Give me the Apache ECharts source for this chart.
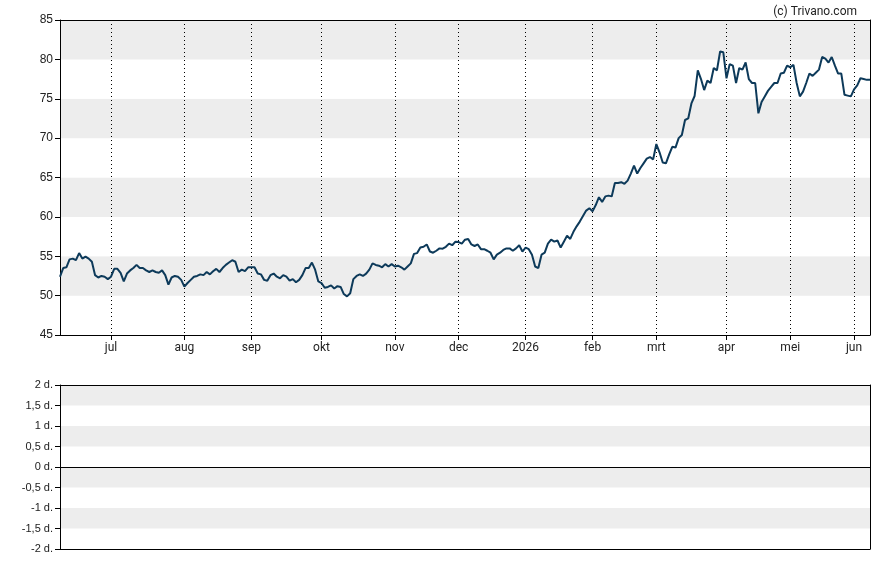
<!DOCTYPE html>
<html lang="nl">

<head>
    <meta charset="UTF-8">
    <title>Koersgrafiek</title>
    <script src="https://cdn.jsdelivr.net/npm/echarts@6/dist/echarts.min.js"></script>
    <style>
        body {
            margin: 0;
        }

        #root {
            width: 888px;
            height: 565px;
        }
    </style>
</head>

<body>

    <div id="root"></div>
    <script>

        // handelsdagen: werkdagen tussen start en eind, zonder beursvakanties
        var startDate = '2025-06-09';
        var endDate = '2026-06-08';
        var holidays = ['2025-12-25', '2025-12-26', '2026-01-01', '2026-04-03', '2026-04-06', '2026-05-01'];
        var monthNames = ['jan', 'feb', 'mrt', 'apr', 'mei', 'jun', 'jul', 'aug', 'sep', 'okt', 'nov', 'dec'];

        // slotkoersen, één per handelsdag
        var closes = [
            52.4, 53.5, 53.6, 54.6, 54.7, 54.5, 55.4, 54.7, 54.95, 54.7,
            54.3, 52.6, 52.3, 52.5, 52.4, 52.1, 52.4, 53.4, 53.4, 52.9,
            51.8, 52.8, 53.2, 53.5, 53.9, 53.5, 53.5, 53.2, 53.0, 53.2,
            53.0, 52.9, 53.2, 52.6, 51.4, 52.3, 52.5, 52.4, 52.0, 51.15,
            51.6, 52.0, 52.4, 52.5, 52.7, 52.6, 53.0, 52.7, 53.1, 53.4,
            53.0, 53.5, 53.9, 54.2, 54.5, 54.3, 53.0, 53.3, 53.1, 53.6,
            53.6, 53.6, 52.8, 52.7, 52.0, 51.9, 52.6, 52.8, 52.4, 52.2,
            52.6, 52.4, 51.9, 52.1, 51.7, 52.0, 52.6, 53.5, 53.5, 54.2,
            53.3, 51.8, 51.6, 51.0, 51.1, 51.3, 50.9, 51.2, 51.1, 50.2,
            49.9, 50.3, 52.1, 52.5, 52.7, 52.5, 52.8, 53.3, 54.1, 53.9,
            53.8, 53.6, 54.0, 53.7, 54.0, 53.7, 53.8, 53.6, 53.3, 53.7,
            54.1, 55.3, 55.4, 56.1, 56.2, 56.5, 55.6, 55.45, 55.7, 56.0,
            55.96, 56.2, 56.6, 56.4, 56.85, 56.8, 56.6, 57.1, 57.2, 56.5,
            56.3, 56.5, 55.9, 55.9, 55.7, 55.45, 54.6, 55.2, 55.45, 55.8,
            56.0, 56.0, 55.7, 56.0, 56.4, 55.6, 56.1, 55.9, 55.2, 53.7,
            53.5, 55.2, 55.45, 56.6, 57.1, 56.85, 57.0, 56.1, 56.85, 57.6,
            57.2, 58.1, 58.8, 59.4, 60.1, 60.8, 61.1, 60.7, 61.5, 62.5,
            61.9, 62.6, 62.7, 62.6, 64.3, 64.3, 64.4, 64.2, 64.6, 65.5,
            66.5, 65.5, 66.2, 66.8, 67.4, 67.6, 67.3, 69.25, 68.2, 66.9,
            66.8, 67.9, 68.9, 68.8, 70.0, 70.4, 72.3, 72.5, 74.4, 75.35,
            78.6, 77.5, 76.1, 77.3, 77.0, 78.9, 78.6, 81.0, 80.9, 77.6,
            79.4, 79.2, 77.0, 78.9, 78.7, 79.6, 77.5, 77.0, 77.0, 73.15,
            74.6, 75.3, 76.0, 76.5, 77.0, 77.0, 78.2, 78.3, 79.2, 79.0,
            79.3, 77.0, 75.3, 75.9, 77.0, 78.2, 77.9, 78.3, 78.7, 80.3,
            80.1, 79.6, 80.3, 79.2, 78.2, 78.2, 75.5, 75.4, 75.3, 76.2,
            76.7, 77.6, 77.5, 77.4, 77.4
        ];

        var dates = [];
        var d = new Date(startDate + 'T00:00:00Z');
        var last = new Date(endDate + 'T00:00:00Z');
        while (d <= last) {
            var s = d.toISOString().slice(0, 10);
            var wd = d.getUTCDay();
            if (wd !== 0 && wd !== 6 && holidays.indexOf(s) < 0) {
                dates.push(s);
            }
            d.setUTCDate(d.getUTCDate() + 1);
        }

        // eerste handelsdag van een maand
        function isMonthStart(index) {
            return index > 0 && dates[index].slice(5, 7) !== dates[index - 1].slice(5, 7);
        }

        function monthLabel(value) {
            var m = +value.slice(5, 7);
            return m === 1 ? value.slice(0, 4) : monthNames[m - 1];
        }

        var bandColors = ['#ffffff', '#ededed'];
        var textColor = '#222';

        var mychart = echarts.init(document.getElementById('root'), null, { renderer: 'canvas' });

        mychart.setOption({
            animation: false,
            title: {
                text: '(c) Trivano.com',
                right: 26,
                top: 1,
                textStyle: {
                    fontFamily: 'Roboto',
                    fontSize: 12,
                    fontWeight: 'normal',
                    color: textColor
                }
            },
            grid: [{
                left: 60,
                right: 18,
                top: 20,
                height: 315
            }, {
                left: 60,
                right: 18,
                top: 385,
                height: 164
            }],
            xAxis: [{
                type: 'category',
                gridIndex: 0,
                data: dates,
                boundaryGap: false,
                axisLine: { onZero: false, lineStyle: { color: '#000', width: 1 } },
                axisTick: {
                    interval: isMonthStart,
                    length: 5,
                    lineStyle: { color: '#000' }
                },
                axisLabel: {
                    interval: isMonthStart,
                    formatter: monthLabel,
                    margin: 7,
                    fontFamily: 'Roboto',
                    fontSize: 12,
                    color: textColor
                },
                splitLine: {
                    show: true,
                    interval: isMonthStart,
                    lineStyle: { color: '#000', type: [1, 3], width: 1 }
                }
            }, {
                type: 'category',
                gridIndex: 0,
                position: 'top',
                data: dates,
                boundaryGap: false,
                axisLine: { lineStyle: { color: '#000' } },
                axisTick: { show: false },
                axisLabel: { show: false }
            }, {
                type: 'category',
                gridIndex: 1,
                data: dates,
                boundaryGap: false,
                axisLine: { onZero: true, lineStyle: { color: '#000' } },
                axisTick: { show: false },
                axisLabel: { show: false }
            }, {
                type: 'category',
                gridIndex: 1,
                position: 'top',
                data: dates,
                boundaryGap: false,
                axisLine: { onZero: false, lineStyle: { color: '#000' } },
                axisTick: { show: false },
                axisLabel: { show: false }
            }, {
                type: 'category',
                gridIndex: 1,
                position: 'bottom',
                data: dates,
                boundaryGap: false,
                axisLine: { onZero: false, lineStyle: { color: '#000' } },
                axisTick: { show: false },
                axisLabel: { show: false }
            }],
            yAxis: [{
                type: 'value',
                gridIndex: 0,
                min: 45,
                max: 85,
                interval: 5,
                axisLine: { show: true, lineStyle: { color: '#000' } },
                axisTick: { show: true, length: 5, lineStyle: { color: '#000' } },
                axisLabel: {
                    margin: 7,
                    fontFamily: 'Liberation Sans',
                    fontSize: 12,
                    color: textColor
                },
                splitLine: { show: false },
                splitArea: { show: true, areaStyle: { color: bandColors } }
            }, {
                type: 'value',
                gridIndex: 0,
                position: 'right',
                min: 45,
                max: 85,
                interval: 5,
                axisLine: { show: true, lineStyle: { color: '#000' } },
                axisTick: { show: false },
                axisLabel: { show: false },
                splitLine: { show: false }
            }, {
                type: 'value',
                gridIndex: 1,
                min: -2,
                max: 2,
                interval: 0.5,
                axisLine: { show: true, lineStyle: { color: '#000' } },
                axisTick: { show: true, length: 5, lineStyle: { color: '#000' } },
                axisLabel: {
                    margin: 7,
                    fontFamily: 'Liberation Sans',
                    fontSize: 11,
                    color: textColor,
                    formatter: function (v) {
                        return String(v).replace('.', ',') + ' d.';
                    }
                },
                splitLine: { show: false },
                splitArea: { show: true, areaStyle: { color: bandColors } }
            }, {
                type: 'value',
                gridIndex: 1,
                position: 'right',
                min: -2,
                max: 2,
                interval: 0.5,
                axisLine: { show: true, lineStyle: { color: '#000' } },
                axisTick: { show: false },
                axisLabel: { show: false },
                splitLine: { show: false }
            }],
            series: [{
                type: 'line',
                xAxisIndex: 0,
                yAxisIndex: 0,
                data: closes,
                symbol: 'none',
                lineStyle: { color: '#0d3a5a', width: 2 }
            }, {
                type: 'line',
                xAxisIndex: 2,
                yAxisIndex: 2,
                data: [],
                symbol: 'none'
            }]
        });

    </script>

</body>

</html>
